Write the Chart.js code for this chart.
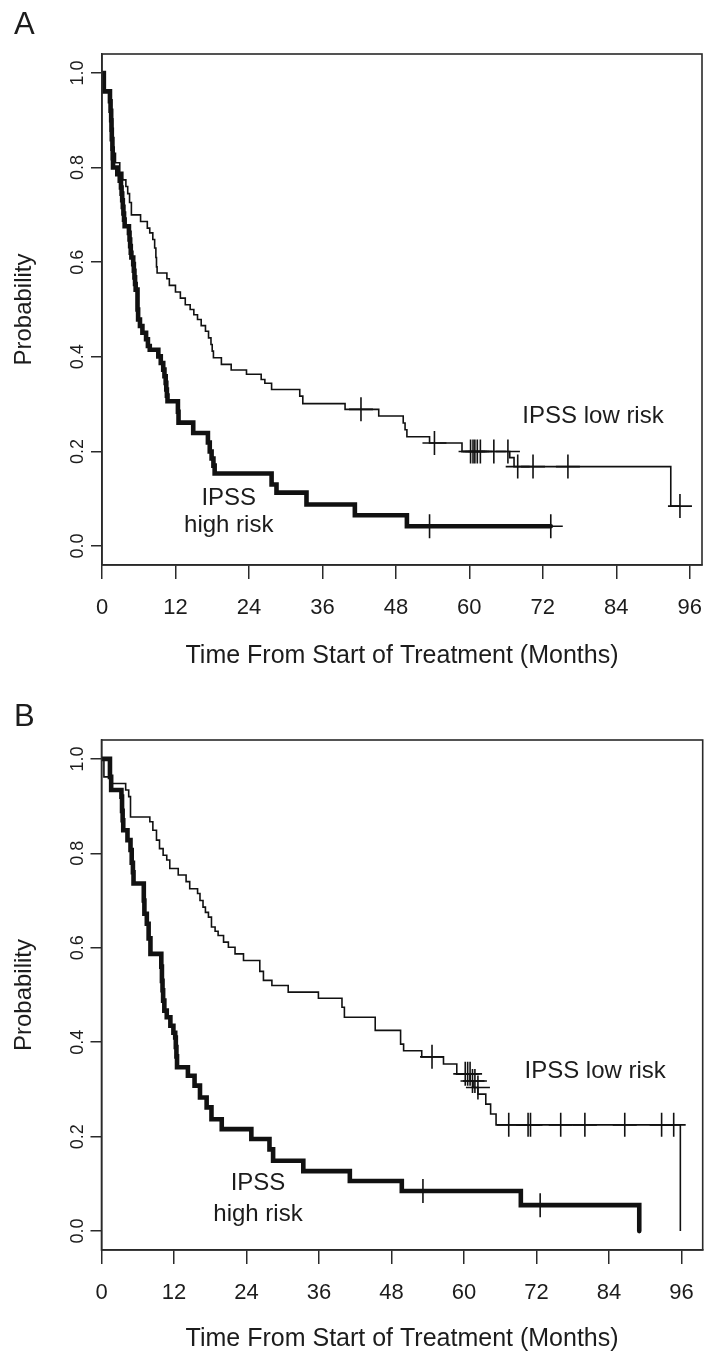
<!DOCTYPE html>
<html>
<head>
<meta charset="utf-8">
<script src="https://cdn.jsdelivr.net/npm/chart.js@4.4.1/dist/chart.umd.min.js"></script>
<style>
  html, body { margin: 0; padding: 0; background: #fff; }
  canvas { display: block; }
</style>
</head>
<body>
<canvas id="panel-a" width="707" height="677"></canvas>
<canvas id="panel-b" width="707" height="678"></canvas>
<script>
// ---- Panel A ----
// IPSS high risk (thick)
var aHighTime = [0, 0.3, 1.3, 1.4, 1.5, 1.55, 1.6, 1.7, 1.75, 1.8, 2.5, 2.9, 3.1, 3.2, 3.3, 3.4, 3.5, 3.6, 3.7,
  4.4, 4.5, 4.6, 4.7, 4.8, 5.1, 5.2, 5.3, 5.4, 5.5, 5.8, 5.9, 6.2, 6.6, 7.2, 7.5, 7.8,
  9.2, 9.6, 10.0, 10.2, 10.4, 10.5, 10.6, 10.7, 12.4, 12.5, 14.9, 17.3, 17.6, 17.9, 18.2, 18.4,
  27.7, 28.5, 33.4, 41.3, 49.8, 73.3];
var aHighSurv = [1, 0.961, 0.94, 0.92, 0.90, 0.88, 0.86, 0.84, 0.82, 0.80, 0.786, 0.772, 0.758, 0.745, 0.731, 0.717, 0.703, 0.69, 0.676,
  0.662, 0.648, 0.634, 0.62, 0.61, 0.596, 0.582, 0.568, 0.554, 0.542, 0.50, 0.479, 0.465, 0.451, 0.437, 0.423, 0.415,
  0.401, 0.387, 0.373, 0.359, 0.345, 0.331, 0.318, 0.306, 0.284, 0.261, 0.239, 0.219, 0.20, 0.185, 0.17, 0.1535,
  0.13, 0.113, 0.088, 0.065, 0.042, 0.042];
var aHighCensTime = [53.5, 73.3];
var aHighCensSurv = [0.042, 0.042];

// IPSS low risk (thin)
var aLowTime = [0, 0.3, 1.3, 1.5, 1.7, 1.8, 2.2, 2.9, 3.4, 3.9, 4.2, 4.5, 4.8, 6.3, 7.4, 7.8, 8.3, 8.6, 8.8, 8.9, 9.0,
  10.6, 11.0, 12.0, 12.8, 13.6, 14.4, 15.0, 15.6, 16.2, 16.9, 17.4, 17.8, 18.0, 18.2, 19.5, 21.1, 23.6,
  26.0, 26.6, 27.7, 32.3, 32.8, 39.7, 45.2, 49.2, 49.5, 49.8, 53.5, 58.8, 66.6, 67.3, 92.9, 94.4];
var aLowSurv = [1, 0.96, 0.94, 0.90, 0.86, 0.83, 0.81, 0.79, 0.774, 0.76, 0.745, 0.726, 0.70, 0.686, 0.672, 0.662, 0.648, 0.63, 0.61, 0.59, 0.577,
  0.565, 0.551, 0.537, 0.524, 0.51, 0.50, 0.489, 0.479, 0.466, 0.454, 0.44, 0.426, 0.412, 0.398, 0.384, 0.372, 0.363,
  0.352, 0.344, 0.331, 0.317, 0.301, 0.289, 0.275, 0.26, 0.246, 0.231, 0.218, 0.20, 0.187, 0.168, 0.0845, 0.0845];
var aLowCensTime = [42.3, 54.3, 60.2, 60.6, 60.9, 61.3, 61.8, 64.0, 66.3, 67.9, 70.4, 76.1, 94.4];
var aLowCensSurv = [0.289, 0.218, 0.20, 0.20, 0.20, 0.20, 0.20, 0.20, 0.20, 0.168, 0.168, 0.168, 0.0845];

// ---- Panel B ----
var bHighTime = [0, 1.4, 1.6, 3.3, 3.4, 3.5, 3.6, 4.3, 4.8, 5.0, 5.2, 5.3, 7.0, 7.1, 7.5, 7.8, 8.1,
  9.9, 10.0, 10.1, 10.2, 10.4, 10.8, 11.4, 11.9, 12.2, 12.3, 12.4, 12.5, 14.3, 15.4, 16.3, 17.4, 18.2, 19.9,
  24.8, 27.8, 28.4, 33.4, 41.1, 49.7, 69.4, 89.0];
var bHighSurv = [1, 0.962, 0.934, 0.92, 0.89, 0.87, 0.849, 0.828, 0.807, 0.78, 0.76, 0.736, 0.70, 0.672, 0.651, 0.62, 0.587,
  0.56, 0.53, 0.51, 0.488, 0.467, 0.453, 0.435, 0.42, 0.41, 0.39, 0.37, 0.347, 0.329, 0.308, 0.283, 0.262, 0.237, 0.216,
  0.195, 0.173, 0.149, 0.127, 0.106, 0.085, 0.055, 0.0];
var bHighCensTime = [53.2, 72.6];
var bHighCensSurv = [0.085, 0.055];

var bLowTime = [0, 0.4, 1.5, 4.0, 4.5, 4.8, 8.0, 8.5, 9.1, 9.6, 10.2, 10.8, 11.3, 12.7, 14.0, 14.6, 15.9, 16.3, 16.8, 17.2, 17.7,
  18.2, 18.8, 19.3, 20.2, 21.0, 22.1, 23.5, 26.2, 26.8, 28.2, 30.9, 35.9, 39.8, 40.2, 45.3, 49.5, 50.0, 53.0, 56.6,
  58.8, 61.0, 61.5, 62.3, 63.6, 64.4, 65.3, 95.8];
var bLowSurv = [1, 0.962, 0.948, 0.934, 0.92, 0.877, 0.867, 0.849, 0.828, 0.81, 0.796, 0.786, 0.768, 0.754, 0.74, 0.725, 0.715, 0.70, 0.686, 0.675, 0.665,
  0.644, 0.635, 0.626, 0.612, 0.601, 0.587, 0.573, 0.55, 0.531, 0.52, 0.506, 0.493, 0.474, 0.453, 0.425, 0.396, 0.382, 0.369, 0.354,
  0.333, 0.318, 0.304, 0.29, 0.269, 0.248, 0.225, 0.0];
var bLowCensTime = [54.7, 60.2, 60.6, 61.0, 61.4, 61.8, 62.3, 67.4, 70.6, 71.0, 76.0, 80.0, 86.6, 92.7, 94.7];
var bLowCensSurv = [0.369, 0.333, 0.333, 0.333, 0.318, 0.318, 0.304, 0.225, 0.225, 0.225, 0.225, 0.225, 0.225, 0.225, 0.225];

// axis ticks
var xTicks = [0, 12, 24, 36, 48, 60, 72, 84, 96];
var yTicks = [0, 0.2, 0.4, 0.6, 0.8, 1.0];

var FONT = '"Liberation Sans", Arial, sans-serif';
var INK = '#1c1c1c';

function toPoints(times, values) {
    return times.map(function(t, i) { return { x: t, y: values[i] }; });
}

// no extra room for overhanging tick labels, the plot box is placed by hand
function noOverhang(s) {
    s.paddingLeft = 0;
    s.paddingRight = 0;
    s.paddingTop = 0;
    s.paddingBottom = 0;
}

// draws the R-style box, the panel letter and the curve labels
var framePlugin = {
    id: 'frame',
    afterDraw: function(chart, args, opts) {
        var ctx = chart.ctx;
        var a = chart.chartArea;
        var xs = chart.scales.x, ys = chart.scales.y;
        ctx.save();
        ctx.strokeStyle = '#2a2a2a';
        ctx.lineWidth = 1.6;
        ctx.strokeRect(a.left, a.top, a.right - a.left, a.bottom - a.top);

        ctx.fillStyle = INK;
        ctx.font = '31px ' + FONT;
        ctx.textAlign = 'left';
        ctx.textBaseline = 'alphabetic';
        ctx.fillText(opts.letter, 14, opts.letterY);

        ctx.font = '24px ' + FONT;
        ctx.textAlign = 'center';
        ctx.textBaseline = 'middle';
        opts.notes.forEach(function(n) {
            ctx.fillText(n.text, xs.getPixelForValue(n.x), ys.getPixelForValue(n.y));
        });
        ctx.restore();
    }
};

function makePanel(id, cfg) {
    var ctx = document.getElementById(id).getContext('2d');
    return new Chart(ctx, {
        type: 'line',
        data: {
            datasets: [
                {
                    data: toPoints(cfg.highTime, cfg.highSurv),
                    stepped: true,
                    borderColor: '#111',
                    borderWidth: 4.6,
                    borderCapStyle: 'round',
                    pointRadius: 0,
                    fill: false
                },
                {
                    data: toPoints(cfg.highCensTime, cfg.highCensSurv),
                    showLine: false,
                    pointStyle: 'cross',
                    pointRadius: 12,
                    pointBorderWidth: 1.6,
                    pointBorderColor: '#111'
                },
                {
                    data: toPoints(cfg.lowTime, cfg.lowSurv),
                    stepped: true,
                    borderColor: '#111',
                    borderWidth: 1.6,
                    pointRadius: 0,
                    fill: false
                },
                {
                    data: toPoints(cfg.lowCensTime, cfg.lowCensSurv),
                    showLine: false,
                    pointStyle: 'cross',
                    pointRadius: 12,
                    pointBorderWidth: 1.6,
                    pointBorderColor: '#111'
                }
            ]
        },
        options: {
            responsive: false,
            animation: false,
            events: [],
            layout: { autoPadding: false, padding: { top: cfg.top, right: cfg.right, left: 0, bottom: 0 } },
            plugins: {
                legend: { display: false },
                tooltip: { enabled: false },
                frame: { letter: cfg.letter, letterY: cfg.letterY, notes: cfg.notes }
            },
            scales: {
                x: {
                    type: 'linear',
                    min: 0,
                    max: cfg.xMax,
                    afterFit: function(s) { s.height = cfg.xHeight; noOverhang(s); },
                    afterBuildTicks: function(s) { s.ticks = xTicks.map(function(v) { return { value: v }; }); },
                    grid: { drawOnChartArea: false, drawTicks: true, tickLength: 14, color: '#2a2a2a', lineWidth: 1.5 },
                    border: { display: true, color: '#2a2a2a', width: 1.5 },
                    ticks: {
                        color: INK,
                        padding: 16,
                        maxRotation: 0,
                        autoSkip: false,
                        font: { family: FONT, size: 22 },
                        callback: function(v) { return String(v); }
                    },
                    title: {
                        display: true,
                        text: 'Time From Start of Treatment (Months)',
                        color: INK,
                        font: { family: FONT, size: 25 },
                        padding: { top: 0, bottom: cfg.titlePad }
                    }
                },
                y: {
                    min: -0.04,
                    max: 1.04,
                    afterFit: function(s) { s.width = cfg.left; noOverhang(s); },
                    afterBuildTicks: function(s) { s.ticks = yTicks.map(function(v) { return { value: v }; }); },
                    grid: { drawOnChartArea: false, drawTicks: true, tickLength: 11, color: '#2a2a2a', lineWidth: 1.5 },
                    border: { display: true, color: '#2a2a2a', width: 1.5 },
                    ticks: {
                        color: INK,
                        padding: 0,
                        minRotation: 90,
                        maxRotation: 90,
                        crossAlign: 'center',
                        autoSkip: false,
                        font: { family: FONT, size: 18 },
                        callback: function(v) { return Number(v).toFixed(1); }
                    },
                    title: {
                        display: true,
                        text: 'Probability',
                        color: INK,
                        font: { family: FONT, size: 24 },
                        padding: { top: 10, bottom: 0 }
                    }
                }
            }
        },
        plugins: [framePlugin]
    });
}

makePanel('panel-a', {
    highTime: aHighTime, highSurv: aHighSurv, highCensTime: aHighCensTime, highCensSurv: aHighCensSurv,
    lowTime: aLowTime, lowSurv: aLowSurv, lowCensTime: aLowCensTime, lowCensSurv: aLowCensSurv,
    xMax: 98.0, top: 54, right: 5, left: 102, xHeight: 112, titlePad: 6,
    letter: 'A', letterY: 34,
    notes: [
        { text: 'IPSS low risk', x: 80.2, y: 0.274 },
        { text: 'IPSS', x: 20.7, y: 0.101 },
        { text: 'high risk', x: 20.7, y: 0.044 }
    ]
});

makePanel('panel-b', {
    highTime: bHighTime, highSurv: bHighSurv, highCensTime: bHighCensTime, highCensSurv: bHighCensSurv,
    lowTime: bLowTime, lowSurv: bLowSurv, lowCensTime: bLowCensTime, lowCensSurv: bLowCensSurv,
    xMax: 99.5, top: 63, right: 4.3, left: 101.5, xHeight: 105, titlePad: 1,
    letter: 'B', letterY: 49,
    notes: [
        { text: 'IPSS low risk', x: 81.7, y: 0.338 },
        { text: 'IPSS', x: 25.9, y: 0.102 },
        { text: 'high risk', x: 25.9, y: 0.036 }
    ]
});
</script>
</body>
</html>
